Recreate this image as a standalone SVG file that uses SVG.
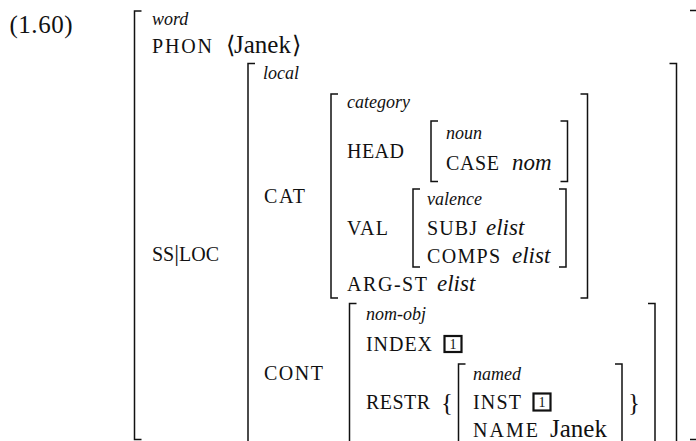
<svg xmlns="http://www.w3.org/2000/svg" width="696" height="441" viewBox="0 0 696 441">
  <style>
    text { font-family: "Liberation Serif", "DejaVu Serif", serif; fill: #111; }
    .rm { font-size: 25px; }
    .sc { font-size: 20px; }
    .ty { font-size: 18px; font-style: italic; }
    .v  { font-size: 23px; font-style: italic; }
    .tag { font-size: 14px; text-anchor: middle; }
    .br { fill: none; stroke: #111; stroke-width: 1.5; }
    .box { fill: none; stroke: #111; stroke-width: 2.2; }
    .dl { font-family: "DejaVu Serif", "Liberation Serif", serif; font-size: 24px; }
  </style>

  <!-- example number -->
  <text id="exnum" class="rm" x="9.5" y="33" textLength="63">(1.60)</text>

  <!-- matrix brackets -->
  <g id="brackets" class="br">
    <!-- word -->
    <path d="M141.5,11 H134.5 V439.5 H141.5"/>
    <path d="M690,10.5 H697 V439.5 H690"/>
    <!-- local -->
    <path d="M255,63.5 H248 V446"/>
    <path d="M669.5,63.5 H676.5 V446"/>
    <!-- category -->
    <path d="M338,94 H331 V298 H338"/>
    <path d="M580.5,94 H587.5 V298 H580.5"/>
    <!-- noun -->
    <path d="M438,121 H431 V181.5 H438"/>
    <path d="M560.5,121 H567.5 V181.5 H560.5"/>
    <!-- valence -->
    <path d="M420,189 H413 V267 H420"/>
    <path d="M559,189 H566 V267 H559"/>
    <!-- nom-obj -->
    <path d="M356.5,303.5 H349.5 V446"/>
    <path d="M648,303.5 H655 V446"/>
    <!-- named -->
    <path d="M465.5,364 H458.5 V446"/>
    <path d="M615,364 H622 V446"/>
  </g>

  <!-- word level -->
  <g id="word">
    <text class="ty" x="152" y="25">word</text>
    <text class="sc" x="152" y="53" textLength="60">PHON</text>
    <text class="dl" x="226" y="53">⟨</text>
    <text class="rm" x="234" y="53">Janek</text>
    <text class="dl" x="292" y="53">⟩</text>
    <text class="sc" x="152" y="261"><tspan>SS</tspan><tspan font-size="24">|</tspan><tspan>LOC</tspan></text>
  </g>

  <!-- local -->
  <g id="local">
    <text class="ty" x="263" y="79">local</text>
    <text class="sc" x="264" y="203" textLength="41">CAT</text>
    <text class="sc" x="264" y="380" textLength="59">CONT</text>
  </g>

  <!-- category -->
  <g id="category">
    <text class="ty" x="347" y="108">category</text>
    <text class="sc" x="347" y="158" textLength="57">HEAD</text>
    <text class="sc" x="347" y="235" textLength="41">VAL</text>
    <text class="sc" x="347" y="291" textLength="80">ARG-ST</text>
    <text class="v" x="437" y="291">elist</text>
  </g>

  <!-- noun -->
  <g id="noun">
    <text class="ty" x="446" y="139">noun</text>
    <text class="sc" x="446" y="170" textLength="53">CASE</text>
    <text class="v" x="512" y="170">nom</text>
  </g>

  <!-- valence -->
  <g id="valence">
    <text class="ty" x="427" y="205">valence</text>
    <text class="sc" x="427" y="235" textLength="50">SUBJ</text>
    <text class="v" x="486" y="235">elist</text>
    <text class="sc" x="427" y="263" textLength="73">COMPS</text>
    <text class="v" x="512" y="263">elist</text>
  </g>

  <!-- nom-obj -->
  <g id="nom-obj">
    <text class="ty" x="366" y="320">nom-obj</text>
    <text class="sc" x="366" y="351" textLength="66">INDEX</text>
    <rect class="box" x="444.5" y="336" width="17" height="16"/>
    <text class="tag" x="453" y="349">1</text>
    <text class="sc" x="366" y="409" textLength="64">RESTR</text>
    <text class="rm" x="441" y="411">{</text>
    <text class="rm" x="628" y="411">}</text>
  </g>

  <!-- named -->
  <g id="named">
    <text class="ty" x="473" y="380">named</text>
    <text class="sc" x="473" y="409" textLength="48">INST</text>
    <rect class="box" x="533.5" y="393.5" width="17" height="17"/>
    <text class="tag" x="542" y="407">1</text>
    <text class="sc" x="473" y="437" textLength="65">NAME</text>
    <text class="rm" x="550" y="437">Janek</text>
  </g>
</svg>
